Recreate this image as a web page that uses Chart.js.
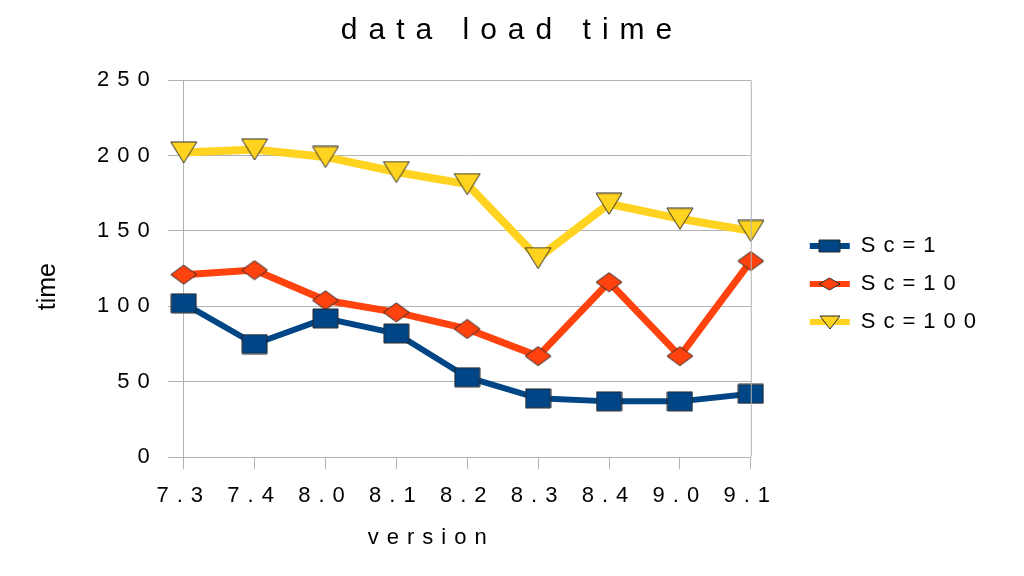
<!DOCTYPE html>
<html>
<head>
<meta charset="utf-8">
<script src="https://cdn.jsdelivr.net/npm/chart.js@4"></script>
<style>
  html, body { margin: 0; padding: 0; background: #fff; }
  #wrap { width: 1024px; height: 576px; }
</style>
</head>
<body>
<div id="wrap"><canvas id="myChart"></canvas></div>
<script>
const versions = ['7.3', '7.4', '8.0', '8.1', '8.2', '8.3', '8.4', '9.0', '9.1'];
const sc1 = [102, 75, 92, 82, 53, 39, 37, 37, 42];
const sc10 = [121, 124, 104, 96, 85, 67, 116, 67, 130];
const sc100 = [202, 204, 199, 189, 181, 132, 168, 158, 150];
const seriesNames = ['Sc=1', 'Sc=10', 'Sc=100'];
const yTicks = [0, 50, 100, 150, 200, 250];

const FONT = '"Liberation Sans", Arial, sans-serif';
const LEGEND_SHIFT = 43;
const LEGEND_DROP = 5;

// marker images, drawn once
function makeMarker(shape, color, w, h) {
    var c = document.createElement('canvas');
    c.width = w + 2; c.height = h + 2;
    var g = c.getContext('2d');
    g.fillStyle = color;
    g.strokeStyle = '#2b2b2b';
    g.lineWidth = 1;
    g.beginPath();
    if (shape == 'rect') {
        g.rect(1, 1, w, h);
    } else if (shape == 'diamond') {
        g.moveTo(1 + w / 2, 1); g.lineTo(1 + w, 1 + h / 2);
        g.lineTo(1 + w / 2, 1 + h); g.lineTo(1, 1 + h / 2);
        g.closePath();
    } else {
        g.moveTo(1, 1); g.lineTo(1 + w, 1); g.lineTo(1 + w / 2, 1 + h);
        g.closePath();
    }
    g.fill();
    g.stroke();
    return c;
}

const colors = ['#004586', '#ff420e', '#ffd320'];
const markers = [
    makeMarker('rect', colors[0], 25, 19),
    makeMarker('diamond', colors[1], 26, 19),
    makeMarker('tri', colors[2], 26, 21)
];
const legendMarkers = [
    makeMarker('rect', colors[0], 21, 12),
    makeMarker('diamond', colors[1], 21, 12),
    makeMarker('tri', colors[2], 20, 13)
];

// the original chart spreads its letters out
function setSpacing(chart) {
    chart.ctx.letterSpacing = '8px';
}

function withSpacing(obj, name, spacing, dx, dy) {
    var orig = obj[name];
    obj[name] = function () {
        var ctx = this.ctx;
        ctx.save();
        if (spacing) ctx.letterSpacing = spacing;
        ctx.translate(dx || 0, dy || 0);
        var r = orig.apply(this, arguments);
        ctx.restore();
        return r;
    };
}

// y axis title "time" is not spaced and sits a little low
withSpacing(Chart.registry.getScale('linear').prototype, 'drawTitle', '0px', 0, 18);
// x axis title sits left of centre
withSpacing(Chart.registry.getScale('category').prototype, 'drawTitle', null, -36, 0);

const spacingPlugin = {
    id: 'spacing',
    afterInit(chart) {
        withSpacing(chart.titleBlock, 'draw', '11px', 5, 0);
        // push legend content right, leaving a gap next to the plot
        var legend = chart.legend;
        var fit = legend.fit;
        legend.fit = function () {
            fit.apply(this, arguments);
            this.width += LEGEND_SHIFT;
        };
        withSpacing(legend, 'draw', null, LEGEND_SHIFT, LEGEND_DROP);
    },
    beforeUpdate: setSpacing,
    beforeLayout: setSpacing,
    beforeDraw: setSpacing
};

const framePlugin = {
    id: 'frame',
    afterDraw(chart) {
        var a = chart.chartArea, ctx = chart.ctx;
        ctx.save();
        ctx.strokeStyle = '#b3b3b3';
        ctx.lineWidth = 1;
        ctx.beginPath();
        ctx.moveTo(a.left, a.top + 0.5);
        ctx.lineTo(a.right + 0.5, a.top + 0.5);
        ctx.lineTo(a.right + 0.5, a.bottom);
        ctx.stroke();
        // legend markers on top of the line samples
        var boxes = chart.legend.legendHitBoxes;
        for (var i = 0; i < boxes.length; i++) {
            var b = boxes[i];
            var m = legendMarkers[i];
            var cx = b.left + LEGEND_SHIFT + 20, cy = b.top + b.height / 2 + LEGEND_DROP;
            ctx.drawImage(m, Math.round(cx - m.width / 2), Math.round(cy - m.height / 2));
        }
        ctx.restore();
    }
};

function makeDataset(i, values, width) {
    return {
        label: seriesNames[i],
        data: values,
        borderColor: colors[i],
        backgroundColor: colors[i],
        borderWidth: width,
        pointStyle: markers[i],
        pointRadius: 12,
        tension: 0
    };
}

function createChart() {
    var ctx = document.getElementById('myChart').getContext('2d');
    new Chart(ctx, {
        type: 'line',
        data: {
            labels: versions,
            datasets: [
                makeDataset(0, sc1, 6),
                makeDataset(1, sc10, 7),
                makeDataset(2, sc100, 8)
            ]
        },
        options: {
            responsive: true,
            maintainAspectRatio: false,
            animation: false,
            layout: { padding: { left: 20, right: 30, top: 3, bottom: 21 } },
            plugins: {
                title: {
                    display: true,
                    text: 'data load time',
                    color: '#000',
                    font: { family: FONT, size: 30, weight: 'normal' },
                    padding: { top: 10, bottom: 31 }
                },
                legend: {
                    position: 'right',
                    align: 'center',
                    labels: {
                        color: '#000',
                        font: { family: FONT, size: 22 },
                        boxWidth: 40,
                        boxHeight: 6,
                        padding: 16,
                        generateLabels(chart) {
                            return chart.data.datasets.map((ds, i) => ({
                                text: ds.label,
                                fillStyle: ds.borderColor,
                                strokeStyle: ds.borderColor,
                                lineWidth: 0,
                                hidden: false,
                                datasetIndex: i,
                                fontColor: '#000'
                            }));
                        }
                    }
                },
                tooltip: { enabled: false }
            },
            scales: {
                x: {
                    offset: false,
                    grid: { drawOnChartArea: false, color: '#b3b3b3', tickLength: 12 },
                    border: { color: '#b3b3b3' },
                    ticks: {
                        color: '#000',
                        font: { family: FONT, size: 22 },
                        padding: 14,
                        maxRotation: 0,
                        autoSkip: false
                    },
                    title: {
                        display: true,
                        text: 'version',
                        color: '#000',
                        font: { family: FONT, size: 22 },
                        padding: { top: 1, bottom: 4 }
                    }
                },
                y: {
                    min: 0,
                    max: 250,
                    afterBuildTicks(scale) {
                        scale.ticks = yTicks.map(v => ({ value: v }));
                    },
                    grid: { color: '#b3b3b3', tickLength: 16 },
                    border: { color: '#b3b3b3' },
                    ticks: { color: '#000', font: { family: FONT, size: 22 }, padding: 10 },
                    title: {
                        display: true,
                        text: 'time',
                        color: '#000',
                        font: { family: FONT, size: 25 },
                        padding: { top: 13, bottom: 24 }
                    }
                }
            }
        },
        plugins: [spacingPlugin, framePlugin]
    });
}
createChart();
</script>
</body>
</html>
